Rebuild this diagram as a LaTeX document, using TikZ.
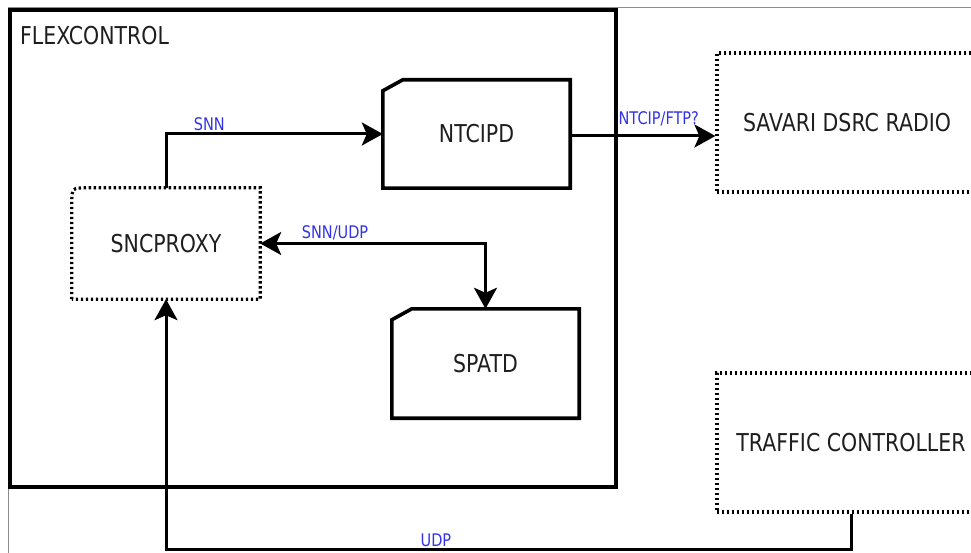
\documentclass[tikz,border=0pt]{standalone}
\usepackage{fontspec}
\setmainfont{DejaVu Sans}
\usepackage{graphicx}
\usetikzlibrary{arrows.meta}

\definecolor{lblblue}{RGB}{50,50,235}
\definecolor{txtgray}{RGB}{30,30,30}
\newcommand{\tall}[1]{\scalebox{1}[1.2]{#1}}

\begin{document}
\begin{tikzpicture}[x=1pt,y=-1pt,
  >={Stealth[length=21pt,width=23pt,inset=5pt]},
  box/.style={inner sep=0pt,text=txtgray,font=\fontsize{20.5}{24}\selectfont},
  solidbox/.style={draw,line width=3.6pt,line join=miter},
  dotbox/.style={draw,line width=3.2pt,dash pattern=on 2.4pt off 2.6pt},
  flow/.style={line width=3pt},
  lbl/.style={text=lblblue,font=\fontsize{14.5}{16}\selectfont,inner sep=2pt}]

  \useasboundingbox (0,0) rectangle (971,553);
  \clip (0,0) rectangle (971,553);

  % screenshot frame
  \draw[black!45,line width=1pt] (8,553) -- (8,8) -- (971,8);

  \node[box,solidbox,minimum width=606pt,minimum height=477pt] (flex) at (313,248.5) {};
  \node[box,anchor=west] (flexname) at (20,35.5) {\tall{FLEXCONTROL}};

  \node[box,minimum width=187pt,minimum height=108pt] (ntcipd) at (476.5,134) {\tall{NTCIPD}};
  \node[box,minimum width=187pt,minimum height=109pt] (spatd) at (485.5,363.5) {\tall{SPATD}};
  \node[box,minimum width=188pt,minimum height=111pt] (sncproxy) at (166,243.5) {\tall{SNCPROXY}};
  \node[box,dotbox,minimum width=260pt,minimum height=139pt] (savari) at (847,122.5) {\tall{SAVARI DSRC RADIO}};
  \node[box,dotbox,minimum width=268pt,minimum height=139pt] (traffic) at (851,442.5) {\tall{TRAFFIC CONTROLLER}};

  % cut corner boxes
  \foreach \b in {ntcipd,spatd}
    \draw[solidbox] ([yshift=-11pt]\b.north west) -- ([xshift=20pt]\b.north west)
      -- (\b.north east) -- (\b.south east) -- (\b.south west) -- cycle;
  \draw[dotbox] (sncproxy.south west) -- ([yshift=-16pt]sncproxy.north west)
    .. controls (sncproxy.north west) .. ([xshift=16pt]sncproxy.north west)
    -- (sncproxy.north east) -- (sncproxy.south east) -- cycle;

  \coordinate (bottom) at (0,549);

  \draw[flow,->] (sncproxy.north) |- (ntcipd.west) node[lbl,above,pos=0.6] {\tall{SNN}};
  \draw[flow,<->] (sncproxy.east) -| (spatd.north) node[lbl,above,pos=0.166] {\tall{SNN/UDP}};
  \draw[flow,->] ([yshift=-2pt]ntcipd.east) -- ([yshift=-2pt]ntcipd.east -| savari.west)
    node[lbl,above,pos=0.61,yshift=6pt] {\tall{NTCIP/FTP?}};
  \draw[flow,->] (traffic.south) -- (traffic.south |- bottom) -| (sncproxy.south)
    node[lbl,above,pos=0.303,inner sep=1pt] {\tall{UDP}};
\end{tikzpicture}
\end{document}
